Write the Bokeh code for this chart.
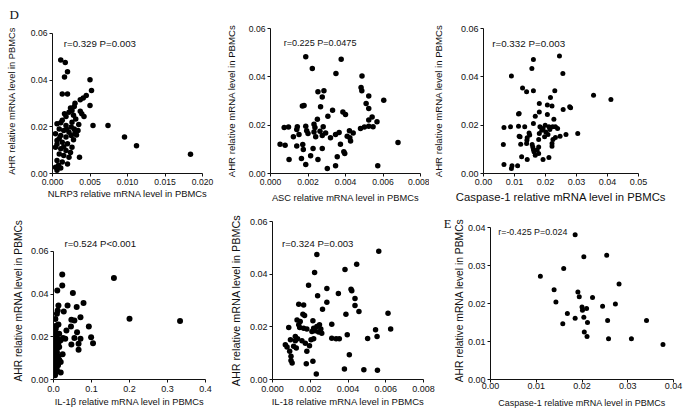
from bokeh.plotting import figure
from bokeh.layouts import column, row
from bokeh.models import Range1d, FixedTicker, Label, PrintfTickFormatter
from bokeh.embed import file_html
from bokeh.resources import INLINE

FONT = "Liberation Sans"
INK = "#111111"

# ---------------- data ----------------
y_title = "AHR relative mRNA level in PBMCs"

# D1: NLRP3
nlrp3_x = [0.0011, 0.0017, 0.0020, 0.0016, 0.0013, 0.0020, 0.0050, 0.0052, 0.0045, 0.0041,
           0.0037, 0.0030, 0.0029, 0.0050, 0.0024, 0.0026, 0.0022, 0.0037, 0.0039, 0.0042,
           0.0016, 0.0018, 0.0028, 0.0031, 0.0054, 0.0074, 0.0096, 0.0112, 0.0184, 0.0036,
           0.0006, 0.0006, 0.0011, 0.0018, 0.0025, 0.0029, 0.0034, 0.0009, 0.0015, 0.0022,
           0.0004, 0.0011, 0.0018, 0.0025, 0.0006, 0.0013, 0.0020, 0.0004, 0.0011, 0.0018,
           0.0026, 0.0009, 0.0015, 0.0022, 0.0006, 0.0013, 0.0020, 0.0004, 0.0011, 0.0013,
           0.0026, 0.0035, 0.0019, 0.0030, 0.0006, 0.0015, 0.0028, 0.0009, 0.0032, 0.0024,
           0.0008]
nlrp3_y = [0.0486, 0.0476, 0.0436, 0.0414, 0.0341, 0.0341, 0.0402, 0.0356, 0.0334, 0.0324,
           0.0316, 0.0301, 0.0287, 0.0291, 0.0281, 0.0270, 0.0263, 0.0267, 0.0256, 0.0244,
           0.0256, 0.0244, 0.0250, 0.0234, 0.0206, 0.0206, 0.0156, 0.0119, 0.0083, 0.0070,
           0.0014, 0.0213, 0.0217, 0.0206, 0.0199, 0.0191, 0.0184, 0.0191, 0.0184, 0.0177,
           0.0170, 0.0163, 0.0156, 0.0163, 0.0141, 0.0134, 0.0127, 0.0113, 0.0106, 0.0099,
           0.0113, 0.0084, 0.0077, 0.0070, 0.0056, 0.0049, 0.0041, 0.0027, 0.0024, 0.0228,
           0.0220, 0.0210, 0.0190, 0.0175, 0.0125, 0.0115, 0.0145, 0.0150, 0.0165, 0.0090,
           0.0035]

# D2: ASC
asc_x = [0.00188, 0.00223, 0.00377, 0.00349, 0.00488, 0.00483, 0.00487, 0.00253, 0.00285, 0.00276,
         0.00524, 0.00604, 0.00170, 0.00179, 0.00267, 0.00331, 0.00510, 0.00524, 0.00386, 0.00400,
         0.00306, 0.00250, 0.00524, 0.00568, 0.00542, 0.00073, 0.00096, 0.00143, 0.00140, 0.00188,
         0.00232, 0.00237, 0.00281, 0.00193, 0.00200, 0.00152, 0.00232, 0.00264, 0.00294, 0.00347,
         0.00366, 0.00421, 0.00441, 0.00409, 0.00423, 0.00480, 0.00501, 0.00524, 0.00547, 0.00241,
         0.00320, 0.00276, 0.00122, 0.00172, 0.00051, 0.00140, 0.00078, 0.00175, 0.00227, 0.00276,
         0.00373, 0.00427, 0.00680, 0.00391, 0.00396, 0.00099, 0.00165, 0.00214, 0.00356, 0.00253,
         0.00188, 0.00303, 0.00347, 0.00572]
asc_y = [0.0483, 0.0434, 0.0473, 0.0414, 0.0403, 0.0356, 0.0342, 0.0338, 0.0342, 0.0317,
         0.0321, 0.0303, 0.0279, 0.0281, 0.0276, 0.0262, 0.0290, 0.0269, 0.0255, 0.0244,
         0.0237, 0.0225, 0.0221, 0.0214, 0.0234, 0.0190, 0.0192, 0.0193, 0.0182, 0.0196,
         0.0204, 0.0190, 0.0193, 0.0177, 0.0166, 0.0161, 0.0172, 0.0175, 0.0168, 0.0161,
         0.0170, 0.0177, 0.0168, 0.0154, 0.0148, 0.0186, 0.0192, 0.0196, 0.0193, 0.0152,
         0.0148, 0.0157, 0.0152, 0.0120, 0.0121, 0.0114, 0.0117, 0.0099, 0.0103, 0.0103,
         0.0121, 0.0135, 0.0128, 0.0090, 0.0083, 0.0058, 0.0062, 0.0073, 0.0069, 0.0058,
         0.0037, 0.0021, 0.0032, 0.0032]

# D3: Caspase-1
casp_x = [0.0161, 0.0245, 0.0156, 0.0256, 0.0090, 0.0126, 0.0139, 0.0161, 0.0230, 0.0355,
          0.0411, 0.0216, 0.0180, 0.0206, 0.0221, 0.0278, 0.0281, 0.0257, 0.0113, 0.0115,
          0.0167, 0.0206, 0.0180, 0.0227, 0.0161, 0.0066, 0.0087, 0.0113, 0.0133, 0.0182,
          0.0192, 0.0199, 0.0211, 0.0188, 0.0201, 0.0214, 0.0223, 0.0232, 0.0239, 0.0147,
          0.0149, 0.0180, 0.0208, 0.0197, 0.0115, 0.0118, 0.0141, 0.0140, 0.0178, 0.0232,
          0.0224, 0.0247, 0.0266, 0.0304, 0.0064, 0.0120, 0.0139, 0.0157, 0.0159, 0.0161,
          0.0178, 0.0173, 0.0221, 0.0221, 0.0163, 0.0167, 0.0178, 0.0123, 0.0141, 0.0192,
          0.0211, 0.0066, 0.0092, 0.0110, 0.0090]
casp_y = [0.0472, 0.0486, 0.0434, 0.0414, 0.0403, 0.0354, 0.0338, 0.0342, 0.0342, 0.0324,
          0.0306, 0.0314, 0.0290, 0.0283, 0.0279, 0.0276, 0.0272, 0.0265, 0.0246, 0.0248,
          0.0237, 0.0244, 0.0255, 0.0225, 0.0207, 0.0190, 0.0193, 0.0196, 0.0193, 0.0193,
          0.0186, 0.0200, 0.0193, 0.0179, 0.0172, 0.0182, 0.0193, 0.0193, 0.0186, 0.0168,
          0.0159, 0.0166, 0.0161, 0.0152, 0.0154, 0.0152, 0.0148, 0.0138, 0.0141, 0.0149,
          0.0141, 0.0154, 0.0161, 0.0166, 0.0120, 0.0121, 0.0124, 0.0120, 0.0110, 0.0099,
          0.0110, 0.0097, 0.0124, 0.0113, 0.0090, 0.0076, 0.0083, 0.0069, 0.0058, 0.0058,
          0.0066, 0.0037, 0.0032, 0.0032, 0.0021]

# D4: IL-1beta
il1b_x = [0.023, 0.023, 0.051, 0.010, 0.159, 0.200, 0.333, 0.079, 0.013, 0.011,
          0.037, 0.061, 0.027, 0.071, 0.009, 0.005, 0.047, 0.055, 0.013, 0.034,
          0.046, 0.062, 0.093, 0.099, 0.104, 0.071, 0.066, 0.055, 0.047, 0.066,
          0.025, 0.031, 0.013, 0.004, 0.006, 0.002, 0.009, 0.004, 0.011, 0.002,
          0.006, 0.012, 0.002, 0.009, 0.004, 0.015, 0.024, 0.002, 0.009, 0.015,
          0.019, 0.004, 0.006, 0.012, 0.002, 0.009, 0.019, 0.004, 0.011, 0.004,
          0.015, 0.019, 0.008, 0.002, 0.006, 0.004, 0.009, 0.003, 0.012, 0.006,
          0.002]
il1b_y = [0.0492, 0.0441, 0.0406, 0.0417, 0.0476, 0.0285, 0.0274, 0.0359, 0.0347, 0.0323,
          0.0347, 0.0340, 0.0319, 0.0292, 0.0308, 0.0284, 0.0280, 0.0277, 0.0258, 0.0230,
          0.0248, 0.0222, 0.0248, 0.0198, 0.0170, 0.0191, 0.0168, 0.0195, 0.0164, 0.0139,
          0.0195, 0.0191, 0.0171, 0.0246, 0.0238, 0.0222, 0.0215, 0.0199, 0.0191, 0.0184,
          0.0171, 0.0165, 0.0152, 0.0145, 0.0134, 0.0152, 0.0118, 0.0121, 0.0109, 0.0093,
          0.0082, 0.0093, 0.0075, 0.0067, 0.0051, 0.0044, 0.0033, 0.0020, 0.0168, 0.0215,
          0.0215, 0.0184, 0.0253, 0.0230, 0.0205, 0.0140, 0.0128, 0.0100, 0.0110, 0.0035,
          0.0075]

# D5: IL-18
il18_x = [0.00563, 0.00446, 0.00384, 0.00416, 0.00420, 0.00349, 0.00437, 0.00437, 0.00458, 0.00389,
          0.00612, 0.00314, 0.00626, 0.00546, 0.00396, 0.00554, 0.00504, 0.00314, 0.00337, 0.00354,
          0.00407, 0.00381, 0.00484, 0.00556, 0.00235, 0.00223, 0.00191, 0.00288, 0.00239, 0.00288,
          0.00139, 0.00165, 0.00265, 0.00161, 0.00170, 0.00130, 0.00147, 0.00214, 0.00086, 0.00139,
          0.00144, 0.00165, 0.00182, 0.00218, 0.00235, 0.00249, 0.00256, 0.00209, 0.00226, 0.00244,
          0.00261, 0.00121, 0.00133, 0.00095, 0.00121, 0.00156, 0.00174, 0.00204, 0.00218, 0.00068,
          0.00077, 0.00112, 0.00126, 0.00182, 0.00196, 0.00091, 0.00098, 0.00098, 0.00104, 0.00179,
          0.00214, 0.00232]
il18_y = [0.0487, 0.0438, 0.0418, 0.0343, 0.0337, 0.0327, 0.0308, 0.0281, 0.0258, 0.0248,
          0.0252, 0.0210, 0.0192, 0.0189, 0.0170, 0.0163, 0.0156, 0.0157, 0.0155, 0.0155,
          0.0094, 0.0040, 0.0037, 0.0035, 0.0475, 0.0406, 0.0358, 0.0346, 0.0318, 0.0293,
          0.0286, 0.0283, 0.0267, 0.0248, 0.0243, 0.0226, 0.0220, 0.0223, 0.0197, 0.0208,
          0.0197, 0.0195, 0.0192, 0.0195, 0.0201, 0.0208, 0.0192, 0.0182, 0.0185, 0.0180,
          0.0176, 0.0163, 0.0155, 0.0151, 0.0147, 0.0147, 0.0138, 0.0151, 0.0155, 0.0132,
          0.0123, 0.0126, 0.0120, 0.0107, 0.0128, 0.0107, 0.0088, 0.0072, 0.0063, 0.0060,
          0.0069, 0.0021]

# E: Caspase-1 (second cohort)
e_casp_x = [0.0185, 0.0204, 0.0254, 0.0160, 0.0109, 0.0281, 0.0139, 0.0191, 0.0194, 0.0223,
            0.0143, 0.0273, 0.0245, 0.0200, 0.0210, 0.0201, 0.0168, 0.0185, 0.0204, 0.0212,
            0.0256, 0.0341, 0.0158, 0.0205, 0.0211, 0.0258, 0.0308, 0.0377]
e_ahr_y = [0.0381, 0.0323, 0.0327, 0.0292, 0.0272, 0.0251, 0.0236, 0.0230, 0.0218, 0.0216,
           0.0204, 0.0199, 0.0193, 0.0191, 0.0187, 0.0182, 0.0174, 0.0161, 0.0164, 0.0150,
           0.0155, 0.0155, 0.0147, 0.0125, 0.0113, 0.0107, 0.0107, 0.0092]

# ticks
ticks_y06 = [0.0, 0.02, 0.04, 0.06]
labels_y06 = ["0.00", "0.02", "0.04", "0.06"]
ticks_x020 = [0.0, 0.005, 0.01, 0.015, 0.02]
labels_x020 = ["0.000", "0.005", "0.010", "0.015", "0.020"]
ticks_x008 = [0.0, 0.002, 0.004, 0.006, 0.008]
labels_x008 = ["0.000", "0.002", "0.004", "0.006", "0.008"]
ticks_x05 = [0.0, 0.01, 0.02, 0.03, 0.04, 0.05]
labels_x05 = ["0.00", "0.01", "0.02", "0.03", "0.04", "0.05"]
ticks_x4 = [0.0, 0.1, 0.2, 0.3, 0.4]
labels_x4 = ["0.0", "0.1", "0.2", "0.3", "0.4"]
ticks_04 = [0.0, 0.01, 0.02, 0.03, 0.04]
labels_04 = ["0.00", "0.01", "0.02", "0.03", "0.04"]

stats = ["r=0.329 P=0.003", "r=0.225 P=0.0475", "r=0.332 P=0.003",
         "r=0.524 P<0.001", "r=0.324 P=0.003", "r=-0.425 P=0.024"]


def style_axis(ax, ticks, labels, fmt, tick_fs, lab_fs, lab_standoff, tick_standoff=2):
    ax.ticker = FixedTicker(ticks=ticks)
    ax.formatter = PrintfTickFormatter(format=fmt)
    ax.major_label_overrides = {t: s for t, s in zip(ticks, labels)}
    ax.bounds = (ticks[0], ticks[-1])
    ax.axis_line_color = INK
    ax.axis_line_width = 1
    ax.major_tick_line_color = INK
    ax.major_tick_line_width = 1
    ax.major_tick_out = 3
    ax.major_tick_in = 0
    ax.minor_tick_line_color = None
    ax.major_label_text_font = FONT
    ax.major_label_text_font_size = tick_fs
    ax.major_label_text_color = INK
    ax.major_label_standoff = tick_standoff
    ax.axis_label_text_font = FONT
    ax.axis_label_text_font_style = "normal"
    ax.axis_label_text_font_size = lab_fs
    ax.axis_label_text_color = INK
    ax.axis_label_standoff = lab_standoff


def text_label(x, y, text, size, font=FONT, align="left"):
    return Label(x=x, y=y, text=text, text_font=font, text_font_size=size,
                 text_color=INK, text_baseline="middle", text_align=align)


def panel(w, h, bl, br, bt, bb, xmax, yview, xs, ys, xtitle,
          xt, xl, xfmt, yt, yl, yfmt, xfs, yfs, tfs, xstand, ystand,
          stat, sx, sy, sfs, dot=5.5, tick_standoff=2):
    # yview: top of the plotting frame in data units (the axis itself stops at the last tick)
    p = figure(width=w, height=h, output_backend="svg", toolbar_location=None,
               x_range=Range1d(0, xmax), y_range=Range1d(0, yview),
               min_border_left=bl, min_border_right=br,
               min_border_top=bt, min_border_bottom=bb,
               x_axis_label=xtitle, y_axis_label=y_title)
    p.outline_line_color = None
    p.grid.visible = False
    p.background_fill_color = "white"
    p.border_fill_color = "white"
    style_axis(p.xaxis[0], xt, xl, xfmt, tfs, xfs, xstand, tick_standoff)
    style_axis(p.yaxis[0], yt, yl, yfmt, tfs, yfs, ystand, 2)
    p.scatter(xs, ys, size=dot, fill_color="black", line_color=None)
    p.add_layout(text_label(sx, sy, stat, sfs))
    return p


# Row 1 (height 205): common frame 28..173
p1 = panel(221, 205, 52, 19, 28, 32, 0.02, 0.06214, nlrp3_x, nlrp3_y,
           "NLRP3 relative mRNA level in PBMCs",
           ticks_x020, labels_x020, "%.3f", ticks_y06, labels_y06, "%.2f",
           "9.4px", "9.3px", "8.6px", 0, 11,
           stats[0], 0.0015, 0.0558, "9.7px")
p1.add_layout(text_label(-0.0051, 0.0681, "D", "13px", font="Liberation Serif",
                         align="center"), "above")

p2 = panel(208, 205, 49, 9, 28, 32, 0.008, 0.06, asc_x, asc_y,
           "ASC relative mRNA level in PBMCs",
           ticks_x008, labels_x008, "%.3f", ticks_y06, labels_y06, "%.2f",
           "9.3px", "9.6px", "8.6px", 5, 9,
           stats[1], 0.0007, 0.0538, "9.1px")

p3 = panel(258, 205, 48, 49, 28, 32, 0.05, 0.06, casp_x, casp_y,
           "Caspase-1 relative mRNA level in PBMCs",
           ticks_x05, labels_x05, "%.2f", ticks_y06, labels_y06, "%.2f",
           "11.3px", "9.6px", "9px", 3, 14,
           stats[2], 0.0028, 0.0538, "9.8px", dot=5)

# Row 2 (height 205): common frame 221..379
p4 = panel(222, 205, 53, 17, 16, 31, 0.4, 0.07406, il1b_x, il1b_y,
           "IL-1\u03b2 relative mRNA level in PBMCs",
           ticks_x4, labels_x4, "%.1f", ticks_y06, labels_y06, "%.2f",
           "9.3px", "10.2px", "9px", 2, 4,
           stats[3], 0.029, 0.0638, "9.6px", dot=6, tick_standoff=3)

p5 = panel(214, 205, 50, 13, 16, 31, 0.008, 0.06, il18_x, il18_y,
           "IL-18 relative mRNA level in PBMCs",
           ticks_x008, labels_x008, "%.3f", ticks_y06, labels_y06, "%.2f",
           "9.5px", "10.8px", "9px", 1, 5,
           stats[4], 0.0005, 0.0517, "9.6px", dot=5.5, tick_standoff=3)

p6 = panel(251, 205, 54, 14, 16, 31, 0.04, 0.04158, e_casp_x, e_ahr_y,
           "Caspase-1 relative mRNA level in PBMCs",
           ticks_04, labels_04, "%.2f", ticks_04, labels_04, "%.2f",
           "9px", "10.3px", "9px", 6, 0,
           stats[5], 0.0017, 0.0388, "8.9px", dot=5, tick_standoff=0)
p6.add_layout(text_label(-0.0094, 0.0410, "E", "12.5px", font="Liberation Serif",
                         align="center"), "above")

layout = column(row(p1, p2, p3), row(p4, p5, p6))

with open("out.html", "w") as f:
    f.write(file_html(layout, INLINE))
